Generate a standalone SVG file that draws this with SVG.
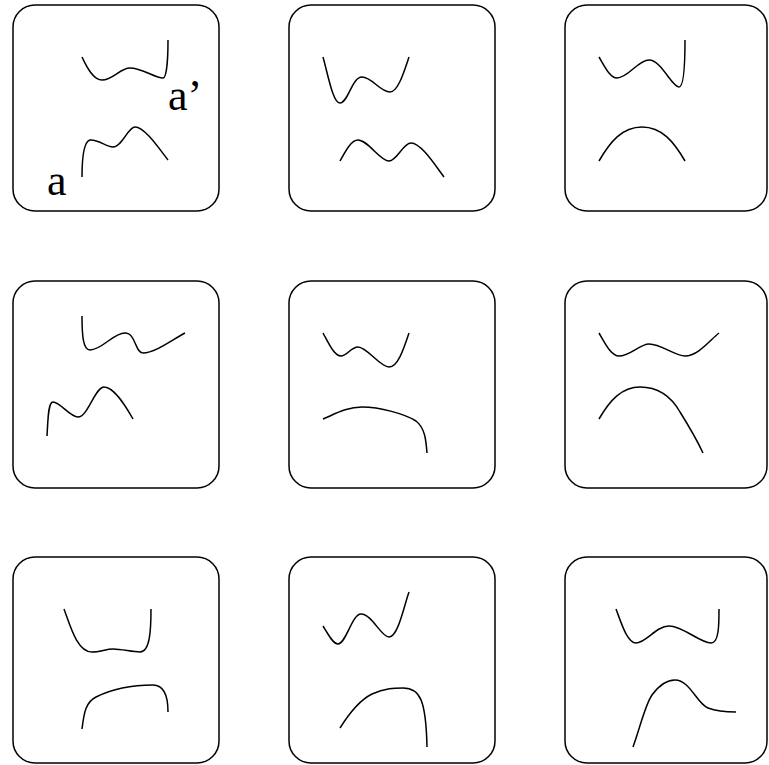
<svg xmlns="http://www.w3.org/2000/svg" width="769" height="765" viewBox="0 0 769 765">
<style>
.box{fill:#fff;stroke:#000;stroke-width:1.5}
.c{fill:none;stroke:#000;stroke-width:1.5;stroke-linecap:butt}
.t{font-family:"Liberation Serif","Times New Roman",serif;font-size:44px;fill:#000}
</style>
<rect width="769" height="765" fill="#fff"/>
<g id="panel1">
<rect class="box" x="13" y="5" width="206" height="206" rx="22"/>
<path class="c" d="M82,57 C88,70 94,80 102,80 C113,80 120,68 130,68 C142,68 155,78 163,78 C166.5,78 168,60 168,40"/>
<path class="c" d="M82,177 C82,160 83,142 90,140 C98,139 106,147 113,147 C122,147 128,127 135,127 C145,127 160,150 168,160"/>
<text class="t" x="168" y="110">a’</text>
<text class="t" x="47" y="195">a</text>
</g>
<g id="panel2">
<rect class="box" x="289" y="5" width="206" height="206" rx="22"/>
<path class="c" d="M323,57 C328,75 333,103 340,103 C348,103 352,77 362,77 C372,77 380,92 390,92 C398,92 404,72 409,57"/>
<path class="c" d="M340,161 C345,152 351,140 358,140 C368,140 380,161 389,161 C397,161 403,143 411,143 C421,143 435,165 444,177"/>
</g>
<g id="panel3">
<rect class="box" x="565" y="5" width="202" height="206" rx="22"/>
<path class="c" d="M599,57 C605,67 610,78 617,78 C628,78 638,60 649,60 C661,60 672,87 679,87 C684,87 685,60 685,40"/>
<path class="c" d="M599,161 C610,142 622,127 642,127 C662,127 674,142 685,161"/>
</g>
<g id="panel4">
<rect class="box" x="13" y="281" width="206" height="207" rx="22"/>
<path class="c" d="M82,316 C82,335 83,350 90,350 C102,350 113,333 125,333 C136,333 135,353 143,353 C155,353 172,340 185,333"/>
<path class="c" d="M47,436 C48,420 48,402 53,402 C60,402 70,417 78,417 C88,417 95,387 104,387 C114,387 125,405 133,419"/>
</g>
<g id="panel5">
<rect class="box" x="289" y="281" width="206" height="207" rx="22"/>
<path class="c" d="M323,333 C328,342 334,356 341,356 C347,356 351,347 358,347 C367,347 380,367 389,367 C398,367 404,348 409,333"/>
<path class="c" d="M323,419 C335,414 347,407 362,407 C380,407 405,414 416,421 C425,428 426,440 427,453"/>
</g>
<g id="panel6">
<rect class="box" x="565" y="281" width="202" height="207" rx="22"/>
<path class="c" d="M599,333 C605,343 611,356 619,356 C630,356 640,344 649,344 C661,344 675,356 685,356 C698,356 710,340 719,333"/>
<path class="c" d="M599,419 C610,400 622,387 640,387 C660,387 672,398 680,412 C690,428 697,440 703,453"/>
</g>
<g id="panel7">
<rect class="box" x="13" y="557" width="206" height="206" rx="22"/>
<path class="c" d="M64,609 C70,625 77,652 92,652 C100,652 106,649 113,649 C122,649 132,652 140,652 C150,652 151,630 151,609"/>
<path class="c" d="M82,729 C84,712 86,702 96,697 C110,690 130,685 153,685 C165,685 168,698 168,712"/>
</g>
<g id="panel8">
<rect class="box" x="289" y="557" width="206" height="206" rx="22"/>
<path class="c" d="M323,626 C328,634 333,644 338,644 C346,644 352,614 361,614 C372,614 381,637 389,637 C398,637 404,606 409,592"/>
<path class="c" d="M340,728 C350,712 360,700 372,694 C385,688 395,688 403,688 C420,688 426,700 427,747"/>
</g>
<g id="panel9">
<rect class="box" x="565" y="557" width="202" height="206" rx="22"/>
<path class="c" d="M616,609 C621,622 627,643 636,643 C646,643 656,626 669,626 C683,626 700,643 711,643 C719,643 719,625 719,609"/>
<path class="c" d="M633,747 C640,728 645,705 652,695 C660,684 668,680 675,680 C690,680 697,704 708,708 C716,711 728,712 736,712"/>
</g>
<g id="connectors"></g>
</svg>
